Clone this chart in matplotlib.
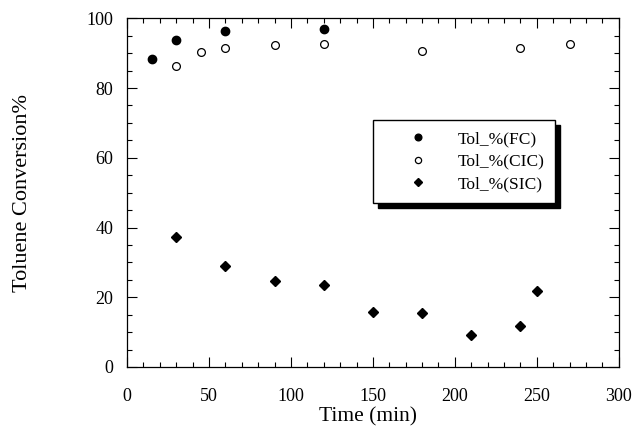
import matplotlib
matplotlib.use("Agg")
import matplotlib.pyplot as plt
from matplotlib.ticker import MultipleLocator
from matplotlib.patches import Rectangle

# Toluene conversion over time for three catalyst configurations
fc_time = [15, 30, 60, 120]
fc_conv = [88.2, 93.7, 96.3, 97.0]

cic_time = [30, 45, 60, 90, 120, 180, 240, 270]
cic_conv = [86.2, 90.3, 91.5, 92.3, 92.7, 90.6, 91.4, 92.5]

sic_time = [30, 60, 90, 120, 150, 180, 210, 240, 250]
sic_conv = [37.2, 29.0, 24.8, 23.6, 15.8, 15.5, 9.1, 11.7, 21.8]

labels = ["Tol_%(FC)", "Tol_%(CIC)", "Tol_%(SIC)"]

plt.rcParams["font.family"] = ["Liberation Serif", "DejaVu Serif"]

fig = plt.figure(figsize=(6.36, 4.26), dpi=100)
ax = fig.add_axes([0.1997, 0.1385, 0.7733, 0.8185])

ax.plot(fc_time, fc_conv, linestyle="none", marker="o", markersize=6,
        color="black", label=labels[0])
ax.plot(cic_time, cic_conv, linestyle="none", marker="o", markersize=5.6,
        markerfacecolor="white", markeredgecolor="black", markeredgewidth=0.9,
        label=labels[1])
ax.plot(sic_time, sic_conv, linestyle="none", marker="D", markersize=4.6,
        color="black", label=labels[2])

ax.set_xlim(0, 300)
ax.set_ylim(0, 100)
ax.xaxis.set_major_locator(MultipleLocator(50))
ax.xaxis.set_minor_locator(MultipleLocator(10))
ax.yaxis.set_major_locator(MultipleLocator(20))
ax.yaxis.set_minor_locator(MultipleLocator(5))
ax.tick_params(which="both", direction="in", top=True, right=True,
               labelsize=13, width=0.8)
ax.tick_params(which="major", length=7.5)
ax.tick_params(which="minor", length=3.5)
ax.tick_params(axis="x", which="major", pad=15)
ax.tick_params(axis="y", which="major", pad=10)
for s in ax.spines.values():
    s.set_linewidth(0.9)

ax.set_xlabel("Time (min)", fontsize=15.5)
ax.xaxis.set_label_coords(0.49, -0.115)
ax.set_ylabel("Toluene Conversion%", fontsize=16)
ax.yaxis.set_label_coords(-0.193, 0.5)

leg = ax.legend(loc="upper left", bbox_to_anchor=(0.501, 0.708),
                fontsize=12.5, frameon=True, fancybox=False, shadow=False,
                framealpha=1, markerscale=0.8, borderpad=0.65,
                labelspacing=0.35, handletextpad=0.3, handlelength=3.88,
                borderaxespad=0)
leg.get_frame().set_edgecolor("black")
leg.get_frame().set_facecolor("white")
leg.get_frame().set_linewidth(1.0)
leg.set_zorder(6)

# Solid drop shadow offset down and to the right of the legend box
fig.canvas.draw()
bb = leg.get_window_extent().transformed(ax.transAxes.inverted())
dx = 5 / (fig.dpi * 6.36 * 0.7733)
dy = 5 / (fig.dpi * 4.26 * 0.8185)
ax.add_patch(Rectangle((bb.x0 + dx, bb.y0 - dy), bb.width, bb.height,
                       transform=ax.transAxes, facecolor="black",
                       edgecolor="black", zorder=5.5, clip_on=False))

fig.savefig("out.png", dpi=100)
